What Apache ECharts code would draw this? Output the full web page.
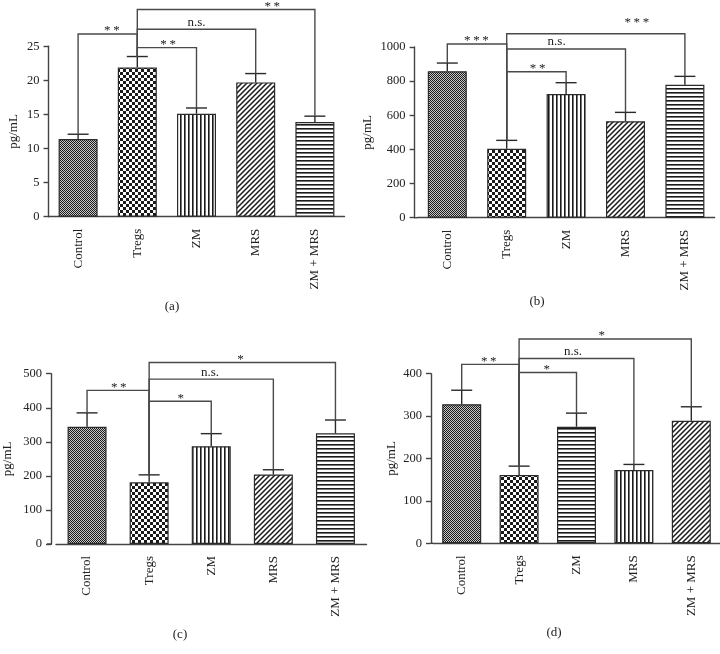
<!DOCTYPE html>
<html>
<head>
<meta charset="utf-8">
<title>Cytokine levels (pg/mL)</title>
<script src="https://cdn.jsdelivr.net/npm/echarts@6/dist/echarts.min.js"></script>
<style>
  html, body { margin: 0; padding: 0; background: #fff; }
  #main { width: 720px; height: 654px; }
</style>
</head>
<body>
<div id="main"></div>
<script>
'use strict'

const categories = ['Control', 'Tregs', 'ZM', 'MRS', 'ZM + MRS']

// (a)
const valuesA = [11.4, 21.9, 15.1, 19.7, 13.9]
const errorsA = [0.7, 1.6, 0.85, 1.3, 0.85]
const bracketsA = [[0, 1, 26.8, '**'], [1, 2, 24.8, '**'], [1, 3, 27.5, 'n.s.'], [1, 4, 30.4, '**']]
const yTicksA = [0, 5, 10, 15, 20, 25]

// (b)
const valuesB = [858, 404, 725, 565, 779]
const errorsB = [48, 49, 66, 52, 49]
const bracketsB = [[0, 1, 1018, '***'], [1, 2, 855, '**'], [1, 3, 988, 'n.s.'], [1, 4, 1078, '***']]
const yTicksB = [0, 200, 400, 600, 800, 1000]

// (c)
const valuesC = [344, 181, 287, 204, 325]
const errorsC = [41, 22, 37, 14, 39]
const bracketsC = [[0, 1, 451, '**'], [1, 2, 419, '*'], [1, 3, 484, 'n.s.'], [1, 4, 533, '*']]
const yTicksC = [0, 100, 200, 300, 400, 500]

// (d)
const valuesD = [328, 161, 275, 173, 289]
const errorsD = [33, 21, 32, 13, 33]
const bracketsD = [[0, 1, 422, '**'], [1, 2, 403, '*'], [1, 3, 436, 'n.s.'], [1, 4, 482, '*']]
const yTicksD = [0, 100, 200, 300, 400]

const FONT = '"Liberation Serif", "DejaVu Serif", serif'
const INK = '#2a2a2a'

// hatch fills drawn on small tiles
function makeTile(kind) {
    const c = document.createElement('canvas')
    const ctx = c.getContext('2d')
    let s = 4
    if (kind === 'fine') s = 2
    if (kind === 'checker') s = 6
    if (kind === 'diag') s = 5
    c.width = s
    c.height = s
    ctx.fillStyle = kind === 'fine' ? '#c8c8c8' : '#fff'
    ctx.fillRect(0, 0, s, s)
    ctx.fillStyle = '#1a1a1a'
    ctx.strokeStyle = '#1a1a1a'
    if (kind === 'fine') {
        ctx.fillRect(0, 0, 1, 1)
        ctx.fillRect(1, 1, 1, 1)
    } else if (kind === 'checker') {
        ctx.fillRect(0, 0, 3, 3)
        ctx.fillRect(3, 3, 3, 3)
    } else if (kind === 'vert') {
        ctx.fillRect(0, 0, 1.6, s)
    } else if (kind === 'horiz') {
        ctx.fillRect(0, 0, s, 1.6)
    } else if (kind === 'diag') {
        ctx.lineWidth = 1.5
        ctx.beginPath()
        ctx.moveTo(0, s); ctx.lineTo(s, 0)
        ctx.moveTo(-1, 1); ctx.lineTo(1, -1)
        ctx.moveTo(s - 1, s + 1); ctx.lineTo(s + 1, s - 1)
        ctx.stroke()
    }
    return { image: c, repeat: 'repeat' }
}

const tiles = {}
;['fine', 'checker', 'vert', 'horiz', 'diag'].forEach(k => { tiles[k] = makeTile(k) })

const panels = [
    { values: valuesA, errors: errorsA, brackets: bracketsA, ticks: yTicksA,
      fills: ['fine', 'checker', 'vert', 'diag', 'horiz'],
      labelAt: [0.57, 0.52, 0.5, 0.76], labelLift: [0, 0, 0, 0],
      grid: { left: 48.5, top: 46.3, width: 296, height: 170.4 }, offset: 0, nameGap: 28,
      caption: '(a)', cx: 172, cy: 307 },
    { values: valuesB, errors: errorsB, brackets: bracketsB, ticks: yTicksB,
      fills: ['fine', 'checker', 'vert', 'diag', 'horiz'],
      labelAt: [0.49, 0.52, 0.42, 0.73], labelLift: [0, 0, 0, 8],
      grid: { left: 417.6, top: 47, width: 297, height: 170.7 }, offset: 3, nameGap: 41,
      caption: '(b)', cx: 537, cy: 302 },
    { values: valuesC, errors: errorsC, brackets: bracketsC, ticks: yTicksC,
      fills: ['fine', 'checker', 'vert', 'diag', 'horiz'],
      labelAt: [0.51, 0.51, 0.49, 0.49], labelLift: [0, 0, 0, 0],
      grid: { left: 52, top: 373.7, width: 314.5, height: 170.3 }, offset: 5, nameGap: 37,
      caption: '(c)', cx: 180, cy: 635 },
    { values: valuesD, errors: errorsD, brackets: bracketsD, ticks: yTicksD,
      fills: ['fine', 'checker', 'horiz', 'vert', 'diag'],
      labelAt: [0.47, 0.48, 0.47, 0.48], labelLift: [0, 0, 0, 0],
      grid: { left: 433, top: 373.7, width: 287, height: 169.6 }, offset: 2, nameGap: 33,
      caption: '(d)', cx: 554, cy: 633 }
]

function errorBar(p) {
    return function (params, api) {
        const i = params.dataIndex
        const bottom = api.coord([i, p.values[i]])
        const top = api.coord([i, p.values[i] + p.errors[i]])
        const half = 10.5
        return {
            type: 'group',
            children: [
                { type: 'line', shape: { x1: bottom[0], y1: bottom[1], x2: top[0], y2: top[1] },
                  style: { stroke: INK, lineWidth: 1.4 } },
                { type: 'line', shape: { x1: top[0] - half, y1: top[1], x2: top[0] + half, y2: top[1] },
                  style: { stroke: INK, lineWidth: 1.4 } }
            ]
        }
    }
}

function bracket(p) {
    return function (params, api) {
        const i = params.dataIndex
        const [from, to, h, text] = p.brackets[i]
        const a = api.coord([from, p.values[from] + p.errors[from]])
        const b = api.coord([from, h])
        const c = api.coord([to, h])
        const d = api.coord([to, p.values[to] + p.errors[to]])
        const stars = text.indexOf('*') >= 0
        const lx = b[0] + (c[0] - b[0]) * p.labelAt[i]
        const ly = b[1] - (stars ? 3 : 7) - p.labelLift[i]
        return {
            type: 'group',
            children: [
                { type: 'polyline', shape: { points: [a, b, c, d] },
                  style: { stroke: '#4a4a4a', lineWidth: 1.4, fill: 'none' } },
                { type: 'text', x: lx, y: ly,
                  style: { text: stars ? text.split('').join('\u2009') : text, fill: '#222',
                           font: '13px ' + FONT, align: 'center', verticalAlign: 'middle' } }
            ]
        }
    }
}

const grids = [], xAxes = [], yAxes = [], series = [], graphics = []

panels.forEach((p, k) => {
    grids.push(p.grid)
    xAxes.push({
        type: 'category', gridIndex: k, data: categories,
        axisLine: { lineStyle: { color: '#444', width: 1.4 } },
        axisTick: { alignWithLabel: true, length: 6, lineStyle: { color: '#444', width: 1.4 } },
        axisLabel: { rotate: 90, margin: 12, fontFamily: FONT, fontSize: 13, color: '#222' }
    })
    yAxes.push({
        type: 'value', gridIndex: k, min: 0,
        max: p.ticks[p.ticks.length - 1], interval: p.ticks[1] - p.ticks[0],
        offset: p.offset,
        name: 'pg/mL', nameLocation: 'middle', nameGap: p.nameGap,
        nameTextStyle: { fontFamily: FONT, fontSize: 13, color: '#222' },
        axisLine: { show: true, lineStyle: { color: '#444', width: 1.4 } },
        axisTick: { show: true, length: 5, lineStyle: { color: '#444', width: 1.4 } },
        axisLabel: { margin: 9, fontFamily: FONT, fontSize: 12.5, color: '#222', formatter: v => String(v) },
        splitLine: { show: false }
    })
    series.push({
        type: 'bar', xAxisIndex: k, yAxisIndex: k, barWidth: 39,
        itemStyle: { borderColor: INK, borderWidth: 1.2 },
        data: p.values.map((v, j) => ({ value: v, itemStyle: { color: tiles[p.fills[j]] } })),
        silent: true
    })
    series.push({
        type: 'custom', xAxisIndex: k, yAxisIndex: k, z: 3, silent: true,
        renderItem: errorBar(p),
        data: p.values.map((v, j) => [j, v + p.errors[j]])
    })
    series.push({
        type: 'custom', xAxisIndex: k, yAxisIndex: k, z: 4, silent: true,
        renderItem: bracket(p),
        data: p.brackets.map(b => [b[0], b[2]])
    })
    // join the x axis line to a y axis that sits a few pixels off the grid
    if (p.offset) {
        const y0 = p.grid.top + p.grid.height
        graphics.push({
            type: 'line', silent: true,
            shape: { x1: p.grid.left - p.offset, y1: y0, x2: p.grid.left, y2: y0 },
            style: { stroke: '#444', lineWidth: 1.4 }
        })
    }
    graphics.push({
        type: 'text', x: p.cx, y: p.cy,
        style: { text: p.caption, fill: '#222', font: '13px ' + FONT, align: 'center', verticalAlign: 'middle' }
    })
})

const myChart = echarts.init(document.getElementById('main'), null, { renderer: 'canvas' })
myChart.setOption({
    animation: false,
    backgroundColor: '#fff',
    grid: grids,
    xAxis: xAxes,
    yAxis: yAxes,
    series: series,
    graphic: graphics
})
</script>
</body>
</html>
